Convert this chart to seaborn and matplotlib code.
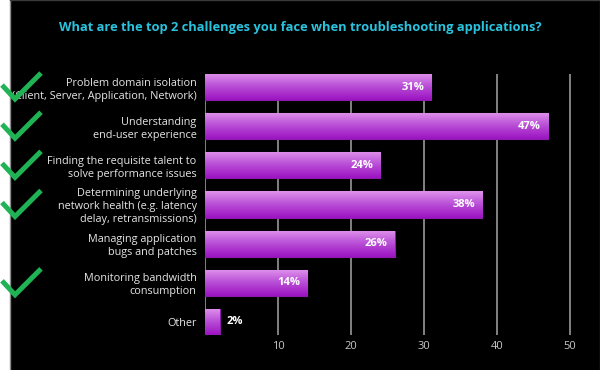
import numpy as np
import pandas as pd
import seaborn as sns
import matplotlib
matplotlib.use("Agg")
import matplotlib.pyplot as plt
from matplotlib.lines import Line2D
from matplotlib.colors import LinearSegmentedColormap

categories = [
    "Problem domain isolation\n(Client, Server, Application, Network)",
    "Understanding\nend-user experience",
    "Finding the requisite talent to\nsolve performance issues",
    "Determining underlying\nnetwork health (e.g. latency\ndelay, retransmissions)",
    "Managing application\nbugs and patches",
    "Monitoring bandwidth\nconsumption",
    "Other",
]
values = [31, 47, 24, 38, 26, 14, 2]
checked = [True, True, True, True, False, True, False]
xticks = [10, 20, 30, 40, 50]
title = "What are the top 2 challenges you face when troubleshooting applications?"

df = pd.DataFrame({"category": categories, "value": values})

sns.set_theme(style="dark")
plt.rcParams["font.family"] = ["Open Sans", "DejaVu Sans"]

W, H = 600, 370
fig = plt.figure(figsize=(6, 3.7), dpi=100, facecolor="white")

# black panel covering everything right of a thin white strip
bg = fig.add_axes([10 / W, 0, 1 - 10 / W, 1], zorder=-10)
bg.set_facecolor("black")
bg.set_xticks([])
bg.set_yticks([])
for side, s in bg.spines.items():
    s.set_visible(side in ("left", "top", "right"))
    s.set_color("#8a8a8a" if side == "left" else "#3a3a3a")
    s.set_linewidth(1)

ax = fig.add_axes([205 / W, 1 - 335 / H, 394 / W, (335 - 74) / H])
ax.set_facecolor("black")

sns.barplot(data=df, x="value", y="category", orient="h", width=0.667,
            color="#b43fd0", edgecolor="#8e1aac", linewidth=0.8, ax=ax, zorder=3)

# gradient fill on bars
cmap = LinearSegmentedColormap.from_list("g", ["#df92eb", "#b84dd6", "#9c14c2"])
grad = np.linspace(0, 1, 64).reshape(-1, 1)
for p in ax.patches:
    x0, y0 = p.get_x(), p.get_y()
    w, h = p.get_width(), p.get_height()
    im = ax.imshow(grad, cmap=cmap, aspect="auto", extent=(x0, x0 + w, y0 + h, y0),
                   zorder=3.5, interpolation="bicubic")
    im.set_clip_path(p)
ax.set_xlim(0, 394 / 7.3)
ax.set_ylim(6 + 0.3335, -0.3335)

# grid lines
for xv in [0] + xticks:
    ax.axvline(xv, color="#8c8c8c", lw=1.3, zorder=1)

for s in ax.spines.values():
    s.set_visible(False)
ax.grid(False)
ax.set_xticks(xticks)
ax.set_xticklabels([str(t) for t in xticks], color="#c8c8c8", fontsize=8)
ax.tick_params(axis="x", length=0, pad=4)
ax.tick_params(axis="y", length=0, pad=6)
ax.set_yticks(range(len(categories)))
ax.set_yticklabels(categories, color="#e6e6e6", fontsize=7.8, linespacing=1.25)
ax.set_xlabel("")
ax.set_ylabel("")

# value labels
for i, v in enumerate(values):
    if v >= 5:
        ax.text(v - 1.0, i, f"{v}%", ha="right", va="center", color="white",
                fontsize=8, fontweight="bold", zorder=5)
    else:
        ax.text(v + 1.0, i, f"{v}%", ha="left", va="center", color="white",
                fontsize=8, fontweight="bold", zorder=5)

# title
fig.text(0.5, 1 - 28 / H, title, ha="center", va="center", color="#2ac3de",
         fontsize=9.3, fontweight="bold")

# check marks next to chosen rows
fig.canvas.draw()
for i, c in enumerate(checked):
    if not c:
        continue
    _, yc = ax.transData.transform((0, i))
    ycp = H - yc  # pixel from top
    pts = [(2, ycp - 2), (15, ycp + 12), (41, ycp - 14)]
    xs = [p[0] / W for p in pts]
    ys = [1 - p[1] / H for p in pts]
    fig.add_artist(Line2D(xs, ys, transform=fig.transFigure, color="#1fb356",
                          lw=3.6, solid_joinstyle="miter", solid_capstyle="butt", zorder=10))

fig.savefig("out.png", dpi=100, facecolor="white")
